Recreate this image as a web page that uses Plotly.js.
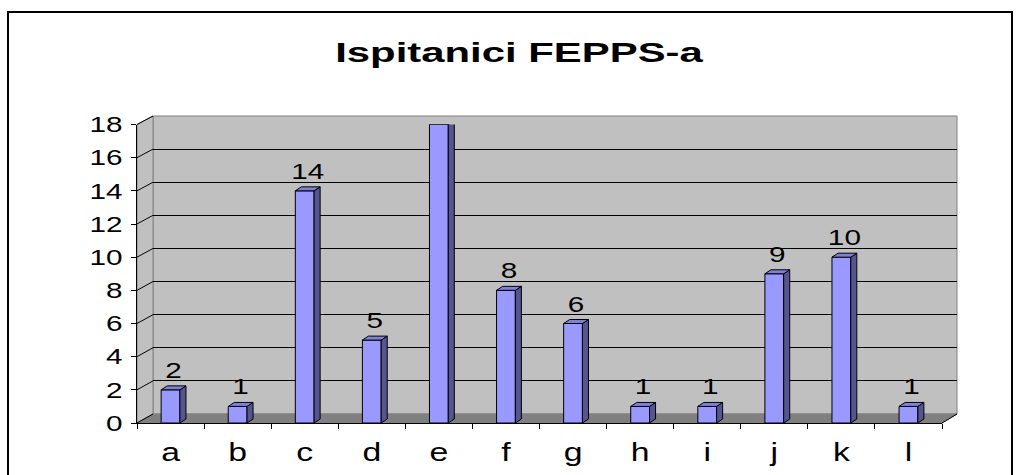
<!DOCTYPE html>
<html>
<head>
<meta charset="utf-8">
<script src="https://cdn.plot.ly/plotly-3.0.1.min.js"></script>
<style>html,body{margin:0;padding:0;background:#fff}#chart{width:1016px;height:475px}</style>
</head>
<body>
<div id="chart"></div>
<script>
const categories = ['a','b','c','d','e','f','g','h','i','j','k','l'];
const values = [2, 1, 14, 5, 18, 8, 6, 1, 1, 9, 10, 1];
const yTicks = [0, 2, 4, 6, 8, 10, 12, 14, 16, 18];
const titleText = 'Ispitanici FEPPS-a';

// style / geometry
const W = 1016, H = 475;
const BAR_W = 0.28, DX = 0.09, DY = 0.24;
const FONT = 'Liberation Sans, Arial, sans-serif';
const px = x => x / W;
const py = y => 1 - y / H;

// pixel frame of front (bars) axes and back wall
const F = {x0: 137, x1: 942, y0: 423, y1: 124.5};   // y0 = value 0, y1 = value 18
const B = {x0: 153, x1: 957, y0: 414, y1: 116};
const yMax = 18;

const xs = categories.map((c, i) => i);

const sideX = [], sideY = [], topX = [], topY = [];
values.forEach((v, i) => {
  const l = i - BAR_W / 2, r = i + BAR_W / 2;
  sideX.push(r, r + DX, r + DX, r, r, null);
  sideY.push(0, DY, v + DY, v, 0, null);
  topX.push(l, r, r + DX, l + DX, l, null);
  topY.push(v, v, v + DY, v + DY, v, null);
});

const traces = [
  {type: 'scatter', x: [0], y: [0], xaxis: 'x', yaxis: 'y', mode: 'markers',
   marker: {opacity: 0}, hoverinfo: 'skip', showlegend: false},
  {type: 'bar', x: xs, y: values, width: BAR_W, xaxis: 'x2', yaxis: 'y2',
   marker: {color: '#9999ff', line: {color: '#000', width: 1}}, hoverinfo: 'skip', showlegend: false},
  {type: 'scatter', x: sideX, y: sideY, xaxis: 'x2', yaxis: 'y2', mode: 'lines', fill: 'toself',
   fillcolor: '#55558f', line: {color: '#000', width: 1}, hoverinfo: 'skip', showlegend: false},
  {type: 'scatter', x: topX, y: topY, xaxis: 'x2', yaxis: 'y2', mode: 'lines', fill: 'toself',
   fillcolor: '#8080d8', line: {color: '#000', width: 1}, hoverinfo: 'skip', showlegend: false},
  {type: 'scatter', x: xs.map(i => i + DX / 2), y: values.map(v => v + DY + 0.15), text: values.map(String),
   xaxis: 'x2', yaxis: 'y2', mode: 'text', textposition: 'top center', cliponaxis: false,
   textfont: {family: FONT, size: 22, color: '#000'}, hoverinfo: 'skip', showlegend: false}
];

const yF = v => F.y0 - (F.y0 - F.y1) * v / yMax;
const yB = v => B.y0 - (B.y0 - B.y1) * v / yMax;

const shapes = [];
// outer border
shapes.push({type: 'rect', xref: 'paper', yref: 'paper', x0: px(8), x1: px(1012), y0: py(12), y1: py(520),
  line: {color: '#000', width: 2}, fillcolor: 'rgba(0,0,0,0)', layer: 'below'});
// back wall
shapes.push({type: 'rect', xref: 'x domain', yref: 'y domain', x0: 0, x1: 1, y0: 0, y1: 1,
  fillcolor: '#c0c0c0', line: {color: '#808080', width: 1}, layer: 'below'});
// left side wall
shapes.push({type: 'path', xref: 'paper', yref: 'paper', layer: 'below',
  path: `M${px(F.x0)},${py(F.y0)} L${px(F.x0)},${py(F.y1)} L${px(B.x0)},${py(B.y1)} L${px(B.x0)},${py(B.y0)} Z`,
  fillcolor: '#c0c0c0', line: {color: '#808080', width: 1}});
// floor
shapes.push({type: 'path', xref: 'paper', yref: 'paper', layer: 'below',
  path: `M${px(F.x0)},${py(F.y0)} L${px(F.x1)},${py(F.y0)} L${px(B.x1)},${py(B.y0)} L${px(B.x0)},${py(B.y0)} Z`,
  fillcolor: '#808080', line: {color: '#808080', width: 1}});
// side wall gridlines
yTicks.forEach(v => {
  shapes.push({type: 'line', xref: 'paper', yref: 'paper', layer: 'below',
    x0: px(F.x0), y0: py(yF(v)), x1: px(B.x0), y1: py(yB(v)), line: {color: '#000', width: 1}});
});
// front floor right edge
shapes.push({type: 'line', xref: 'paper', yref: 'paper', layer: 'above',
  x0: px(F.x1), y0: py(F.y0), x1: px(B.x1), y1: py(B.y0), line: {color: '#000', width: 1}});

const layout = {
  width: W, height: H,
  margin: {l: 0, r: 0, t: 0, b: 0, pad: 0},
  paper_bgcolor: '#fff', plot_bgcolor: 'rgba(0,0,0,0)',
  showlegend: false,
  title: {text: titleText, x: px(519), xref: 'paper', xanchor: 'center', y: py(52), yref: 'paper', yanchor: 'middle',
    font: {family: FONT, size: 28.5, color: '#000', weight: 'bold'}},
  xaxis: {domain: [px(B.x0), px(B.x1)], range: [0, 1], anchor: 'y', showgrid: false, zeroline: false,
    showticklabels: false, ticks: '', showline: false, fixedrange: true},
  yaxis: {domain: [py(B.y0), py(B.y1)], range: [0, yMax], anchor: 'x', tickvals: yTicks.slice(1, -1),
    showgrid: true, gridcolor: '#000', gridwidth: 1, zeroline: false, showticklabels: false, ticks: '',
    showline: false, fixedrange: true},
  xaxis2: {domain: [px(F.x0), px(F.x1)], range: [-0.5, categories.length - 0.5], anchor: 'y2',
    tickvals: xs, ticktext: categories, ticks: '', showgrid: false, zeroline: false,
    showline: true, linecolor: '#000', linewidth: 1, ticklabelstandoff: 7,
    minor: {tick0: -0.5, dtick: 1, ticks: 'outside', ticklen: 5, tickcolor: '#000', tickwidth: 1, showgrid: false},
    tickfont: {family: FONT, size: 25, color: '#000'}, fixedrange: true},
  yaxis2: {domain: [py(F.y0), py(F.y1)], range: [0, yMax], anchor: 'x2', tickvals: yTicks,
    ticks: 'outside', ticklen: 5, tickcolor: '#000', tickwidth: 1, showgrid: false, zeroline: false,
    showline: true, linecolor: '#000', linewidth: 1, ticklabelstandoff: 4,
    tickfont: {family: FONT, size: 22, color: '#000'}, fixedrange: true},
  shapes: shapes
};

// the reference text is horizontally stretched; widen real text glyphs around their anchor
function stretch(sel, s) {
  document.querySelectorAll(sel).forEach(el => {
    const x = parseFloat(el.getAttribute('x')) || 0;
    const t = el.getAttribute('transform') || '';
    el.setAttribute('transform', `${t} translate(${x},0) scale(${s},1) translate(${-x},0)`);
  });
}

Plotly.newPlot('chart', traces, layout, {displayModeBar: false, staticPlot: true}).then(() => {
  stretch('g.xtick text, g.x2tick text, g.ytick text, g.y2tick text', 1.35);
  stretch('.textpoint text', 1.35);
  stretch('.gtitle', 1.47);
});
</script>
</body>
</html>
